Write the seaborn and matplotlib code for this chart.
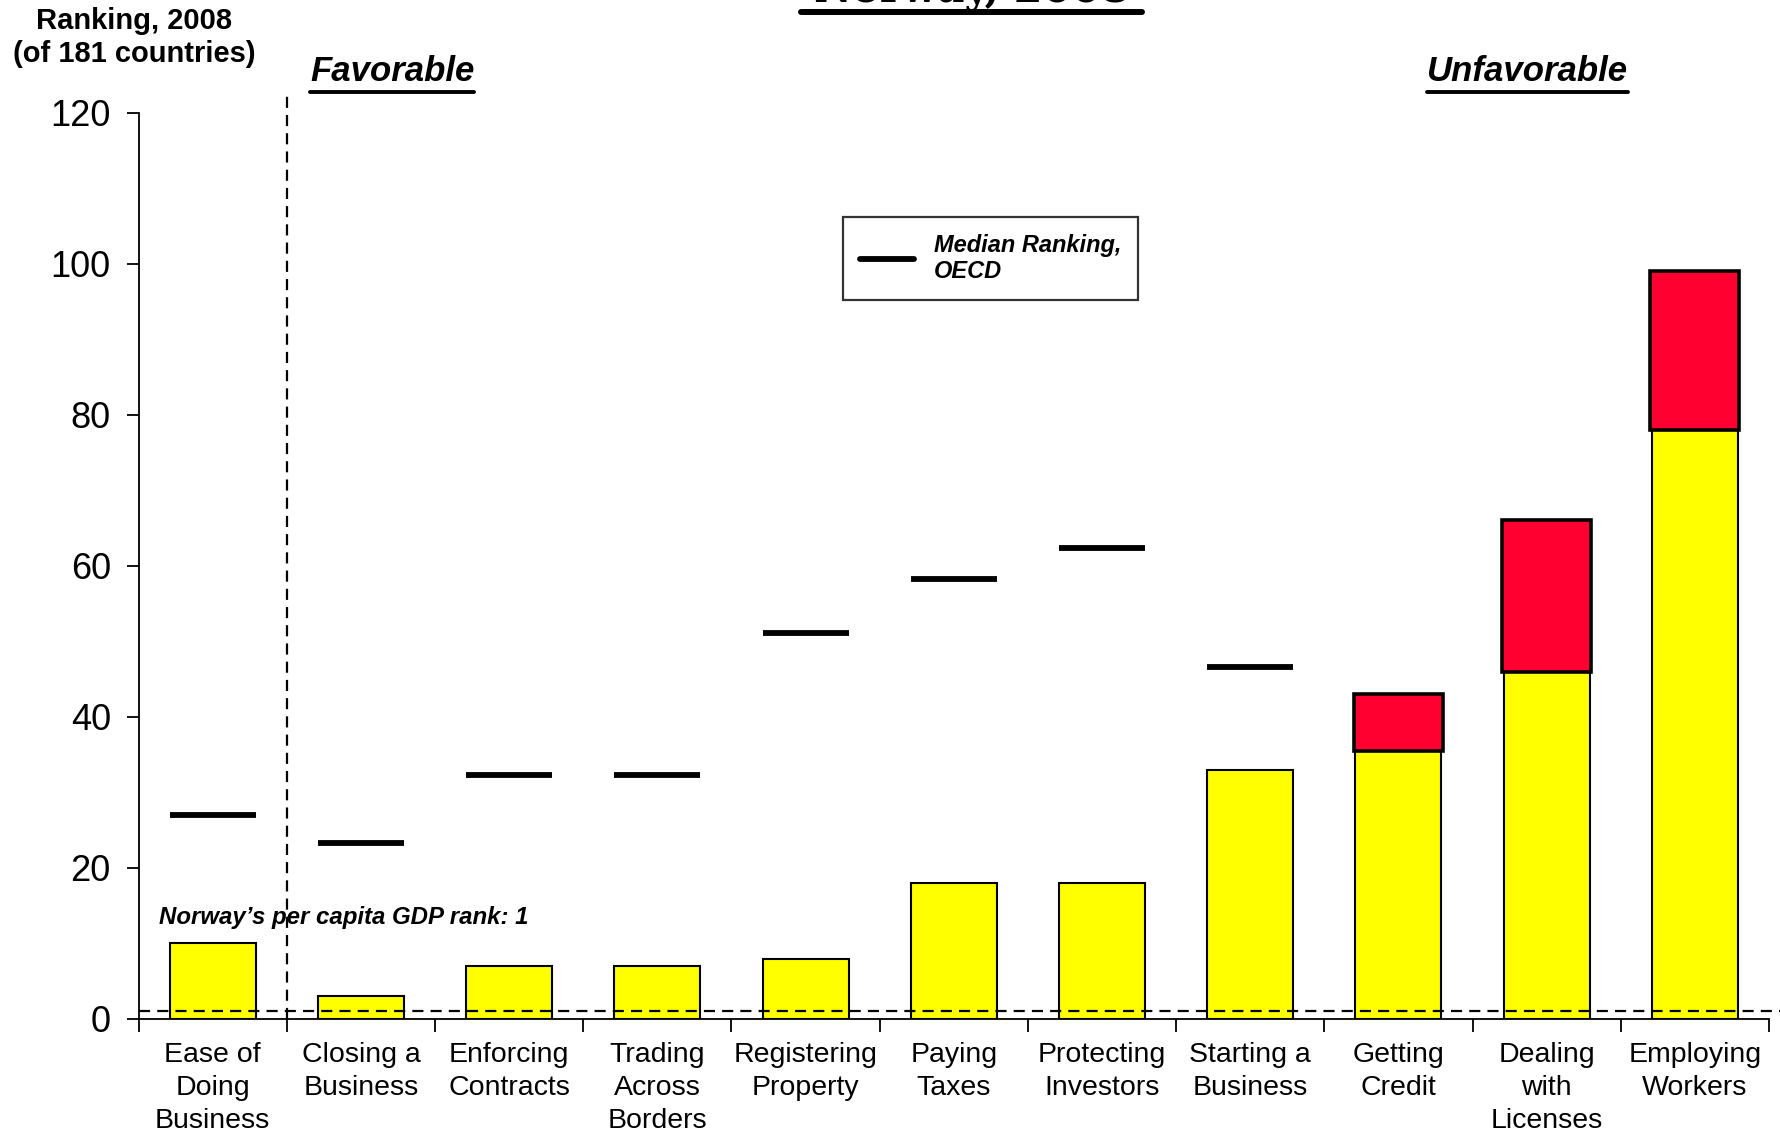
import numpy as np
import pandas as pd
import matplotlib
matplotlib.use("Agg")
import matplotlib.pyplot as plt
from matplotlib.lines import Line2D
import seaborn as sns

# ---- data -----------------------------------------------------------------
categories = [
    "Ease of\nDoing\nBusiness", "Closing a\nBusiness", "Enforcing\nContracts",
    "Trading\nAcross\nBorders", "Registering\nProperty", "Paying\nTaxes",
    "Protecting\nInvestors", "Starting a\nBusiness", "Getting\nCredit",
    "Dealing\nwith\nLicenses", "Employing\nWorkers",
]
norway_rank = [10, 3, 7, 7, 8, 18, 18, 33, 35.5, 46, 78]
# upper end of the red segment (rank in the earlier ranking, where worse)
earlier_rank = [np.nan, np.nan, np.nan, np.nan, np.nan, np.nan, np.nan, np.nan, 43, 66, 99]
oecd_median = [27, 23.3, 32.3, 32.3, 51.1, 58.3, 62.4, 46.6, np.nan, np.nan, np.nan]
gdp_rank = 1
y_ticks = [0, 20, 40, 60, 80, 100, 120]

df = pd.DataFrame({"category": categories, "rank": norway_rank,
                   "earlier": earlier_rank, "median": oecd_median})

# ---- style ----------------------------------------------------------------
sns.set_theme(style="white")
plt.rcParams["font.family"] = ["Liberation Sans", "DejaVu Sans"]
plt.rcParams["text.color"] = "black"
plt.rcParams["xtick.color"] = "black"
plt.rcParams["ytick.color"] = "black"
plt.rcParams["axes.labelcolor"] = "black"

W, H = 1781, 1136
fig = plt.figure(figsize=(W / 100, H / 100), dpi=100)
ax = fig.add_axes([138.6 / W, 1 - 1019 / H, (1769 - 138.6) / W, (1019 - 112.5) / H])

YELLOW = "#FFFF00"
RED = "#FF0030"

# yellow bars: current ranking
sns.barplot(data=df, x="category", y="rank", color=YELLOW, saturation=1,
            width=0.58, edgecolor="black", linewidth=1.5, ax=ax, zorder=2)

# red segments: deterioration on top of the yellow bars
x = np.arange(len(categories))
mask = ~np.isnan(df["earlier"].to_numpy())
ax.bar(x[mask], (df["earlier"] - df["rank"])[mask], bottom=df["rank"][mask],
       width=0.60, color=RED, edgecolor="black", linewidth=2.6, zorder=3)

# OECD median markers
mm = ~np.isnan(df["median"].to_numpy())
ax.hlines(df["median"][mm], x[mm] - 0.29, x[mm] + 0.29, color="black",
          linewidth=4.2, zorder=4)

# GDP-rank reference line and favourable / unfavourable divider
ax.plot([-0.5, 10.58], [gdp_rank, gdp_rank], color="black", lw=1.6,
        dashes=(5, 3.2), clip_on=False, zorder=5)
ax.plot([0.5, 0.5], [0, 122.4], color="black", lw=1.6, dashes=(5, 3.2),
        clip_on=False, zorder=5)

# ---- axes -----------------------------------------------------------------
ax.set_xlim(-0.5, 10.5)
ax.set_ylim(0, 120)
ax.set_yticks(y_ticks)
ax.set_yticklabels([str(v) for v in y_ticks], fontsize=26)
ax.tick_params(axis="y", direction="out", length=9, width=1.3, pad=11,
               left=True, colors="black")
ax.set_xticks(np.arange(-0.5, 10.6, 1.0))
ax.set_xticklabels([])
ax.tick_params(axis="x", which="major", direction="out", length=9, width=1.3,
               bottom=True)
ax.set_xticks(x, minor=True)
ax.set_xticklabels(categories, minor=True, fontsize=20.5, linespacing=1.36,
                   va="top")
ax.tick_params(axis="x", which="minor", length=0, pad=16.5)
ax.set_xlabel("")
ax.set_ylabel("")
for s in ("top", "right"):
    ax.spines[s].set_visible(False)
for s in ("left", "bottom"):
    ax.spines[s].set_color("black")
    ax.spines[s].set_linewidth(1.3)

# ---- texts ----------------------------------------------------------------
fig.text(134 / W, 1 - 7 / H, "Ranking, 2008\n(of 181 countries)", ha="center",
         va="top", fontsize=21, fontweight="bold", linespacing=1.25)

ax.text(-0.36, 13.4, "Norway\u2019s per capita GDP rank: 1", fontsize=17.3,
        fontweight="bold", fontstyle="italic", va="center", ha="left", zorder=6)

fav = fig.text(310 / W, 1 - 81 / H, "Favorable", fontsize=25, fontweight="bold",
               fontstyle="italic", va="baseline", ha="left")
unfav = fig.text(1427 / W, 1 - 81 / H, "Unfavorable", fontsize=25,
                 fontweight="bold", fontstyle="italic", va="baseline", ha="left")

fig.text(971.5 / W, 1 - 2 / H, "Norway, 2008", fontsize=30, fontweight="bold",
         family="DejaVu Serif", ha="center", va="baseline")
fig.add_artist(Line2D([801 / W, 1142 / W], [1 - 12 / H, 1 - 12 / H],
                      color="black", lw=4.3, transform=fig.transFigure))

fig.canvas.draw()
renderer = fig.canvas.get_renderer()
for t in (fav, unfav):
    bb = t.get_window_extent(renderer)
    yline = (bb.y0 - 4) / H
    fig.add_artist(Line2D([bb.x0 / W, bb.x1 / W], [yline, yline], color="black",
                          lw=2.8, transform=fig.transFigure))

# legend
handle = Line2D([], [], color="black", lw=4.2)
leg = ax.legend([handle], ["Median Ranking,\nOECD"], loc="upper left",
                bbox_to_anchor=(843 / W, 1 - 217 / H), bbox_transform=fig.transFigure,
                borderaxespad=0, frameon=True, fancybox=False, handlelength=2.3,
                handletextpad=0.85, borderpad=0.7,
                prop={"size": 17, "weight": "bold", "style": "italic"})
leg.get_frame().set_edgecolor("black")
leg.get_frame().set_linewidth(1.6)

fig.savefig("out.png", dpi=100)
